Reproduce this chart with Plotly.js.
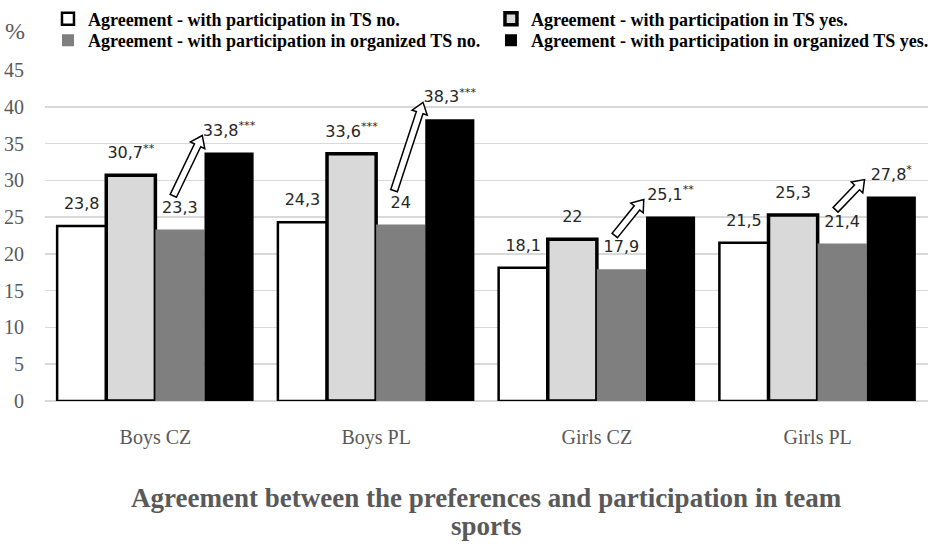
<!DOCTYPE html>
<html>
<head>
<meta charset="utf-8">
<script src="https://cdn.plot.ly/plotly-3.0.1.min.js"></script>
<style>html,body{margin:0;padding:0;background:#fff;}</style>
</head>
<body>
<div id="chart" style="width:935px;height:546px;"></div>
<script>
// values (comma decimals in labels)
var groups = ['Boys CZ', 'Boys PL', 'Girls CZ', 'Girls PL'];
var tsNo = [23.8, 24.3, 18.1, 21.5];
var tsYes = [30.7, 33.6, 22, 25.3];
var orgNo = [23.3, 24, 17.9, 21.4];
var orgYes = [33.8, 38.3, 25.1, 27.8];
var sigTsYes = ['**', '***', '', ''];
var sigOrgYes = ['***', '***', '**', '*'];
var noSig = ['', '', '', ''];

var names = [
  'Agreement - with participation in TS no.',
  'Agreement - with participation in TS yes.',
  'Agreement - with participation in organized TS no.',
  'Agreement - with participation in organized TS yes.'
];

function lab(vals, sig) {
  return vals.map(function (v, i) {
    return String(v).replace('.', ',') + (sig[i] ? '<sup>' + sig[i] + '</sup>' : '');
  });
}

var serif = 'Liberation Serif, Times New Roman, serif';
var grey = '#595959';
var M = {l: 45, r: 1, t: 64, b: 145};
var W = 935 - M.l - M.r, H = 546 - M.t - M.b;
var yMax = 45;

var series = [
  {y: tsNo, sig: noSig, fill: '#ffffff', line: 2.5},
  {y: tsYes, sig: sigTsYes, fill: '#d9d9d9', line: 3.5},
  {y: orgNo, sig: noSig, fill: '#7f7f7f', line: 0},
  {y: orgYes, sig: sigOrgYes, fill: '#000000', line: 0}
];
var legendIds = ['legend', 'legend2', 'legend3', 'legend4'];

var data = [];
series.forEach(function (s, k) {
  data.push({
    type: 'bar',
    name: names[k],
    x: groups,
    y: s.y,
    legend: legendIds[k],
    marker: {color: s.fill, line: {color: '#000', width: s.line}},
    hoverinfo: 'x+y'
  });
});
series.forEach(function (s, k) {
  data.push({
    type: 'scatter',
    mode: 'markers+text',
    x: groups,
    y: s.y,
    text: lab(s.y, s.sig),
    textposition: 'top center',
    textfont: {family: 'DejaVu Sans, Verdana, sans-serif', size: 16, color: '#262626'},
    marker: {size: 19, color: 'rgba(0,0,0,0)'},
    cliponaxis: false,
    showlegend: false,
    hoverinfo: 'skip'
  });
});

// hollow block arrows from organized-no label to organized-yes label
var bargap = 0.11, bw = (1 - bargap) / 4;
function xPix(i, off) { return M.l + (i + 0.5 + off) / groups.length * W; }
function yPix(v) { return M.t + H * (1 - v / yMax); }
function toPaper(p) { return ((p[0] - M.l) / W).toFixed(5) + ',' + ((M.t + H - p[1]) / H).toFixed(5); }
function arrowPath(x0, y0, x1, y1) {
  var dx = x1 - x0, dy = y1 - y0, len = Math.sqrt(dx * dx + dy * dy);
  var ux = dx / len, uy = dy / len, nx = -uy, ny = ux;
  var sw = 3.5, hw = 8, hl = 11;
  var bx = x1 - ux * hl, by = y1 - uy * hl;
  var pts = [
    [x0 + nx * sw, y0 + ny * sw], [bx + nx * sw, by + ny * sw], [bx + nx * hw, by + ny * hw],
    [x1, y1], [bx - nx * hw, by - ny * hw], [bx - nx * sw, by - ny * sw], [x0 - nx * sw, y0 - ny * sw]
  ];
  return 'M' + pts.map(toPaper).join('L') + 'Z';
}
var shapes = groups.map(function (g, i) {
  var off3 = -0.445 + bw * 2.5, off4 = -0.445 + bw * 3;
  return {
    type: 'path', xref: 'paper', yref: 'paper',
    path: arrowPath(xPix(i, off3 - 0.03), yPix(orgNo[i] + 4.6), xPix(i, off4 - 0.01), yPix(orgYes[i] + 2.3)),
    fillcolor: '#ffffff', line: {color: '#000', width: 1.5}
  };
});

// one legend box per entry, laid out in two columns and two rows
function legendAt(px, py) {
  return {
    orientation: 'h', xanchor: 'left', yanchor: 'middle',
    x: (px - M.l) / W, y: (M.t + H - py) / H,
    itemwidth: 30,
    font: {family: serif, size: 18, color: '#000', weight: 'bold'},
    bgcolor: 'rgba(0,0,0,0)'
  };
}

var layout = {
  width: 935, height: 546,
  margin: M,
  paper_bgcolor: '#fff', plot_bgcolor: '#fff',
  barmode: 'group', bargap: bargap, bargroupgap: 0,
  scattermode: 'group', scattergap: bargap,
  showlegend: true,
  legend: legendAt(48, 12),
  legend2: legendAt(494, 12),
  legend3: legendAt(48, 34),
  legend4: legendAt(494, 34),
  xaxis: {
    type: 'category', showgrid: false, zeroline: false, showline: false,
    ticks: 'outside', ticklen: 18, tickcolor: 'rgba(0,0,0,0)',
    tickfont: {family: serif, size: 20, color: grey}
  },
  yaxis: {
    range: [0, yMax], dtick: 5, showgrid: true, gridcolor: '#d9d9d9', gridwidth: 1.5,
    zeroline: true, zerolinecolor: '#d9d9d9', zerolinewidth: 1.5, showline: false,
    ticks: 'outside', ticklen: 16, tickcolor: 'rgba(0,0,0,0)',
    tickfont: {family: serif, size: 20, color: grey}
  },
  shapes: shapes,
  annotations: [
    {text: '%', xref: 'paper', yref: 'paper', x: (15 - M.l) / W, y: (M.t + H - 24) / H,
     xanchor: 'center', yanchor: 'middle', showarrow: false,
     font: {family: serif, size: 24, color: grey}},
    {text: 'Agreement between the preferences and participation in team',
     xref: 'paper', yref: 'paper', x: 0.5, y: (M.t + H - 500) / H, xanchor: 'center', yanchor: 'middle', showarrow: false,
     font: {family: serif, size: 27, color: grey, weight: 'bold'}},
    {text: 'sports',
     xref: 'paper', yref: 'paper', x: 0.5, y: (M.t + H - 528) / H, xanchor: 'center', yanchor: 'middle', showarrow: false,
     font: {family: serif, size: 27, color: grey, weight: 'bold'}}
  ]
};

Plotly.newPlot('chart', data, layout, {displayModeBar: false, staticPlot: true});
</script>
</body>
</html>
